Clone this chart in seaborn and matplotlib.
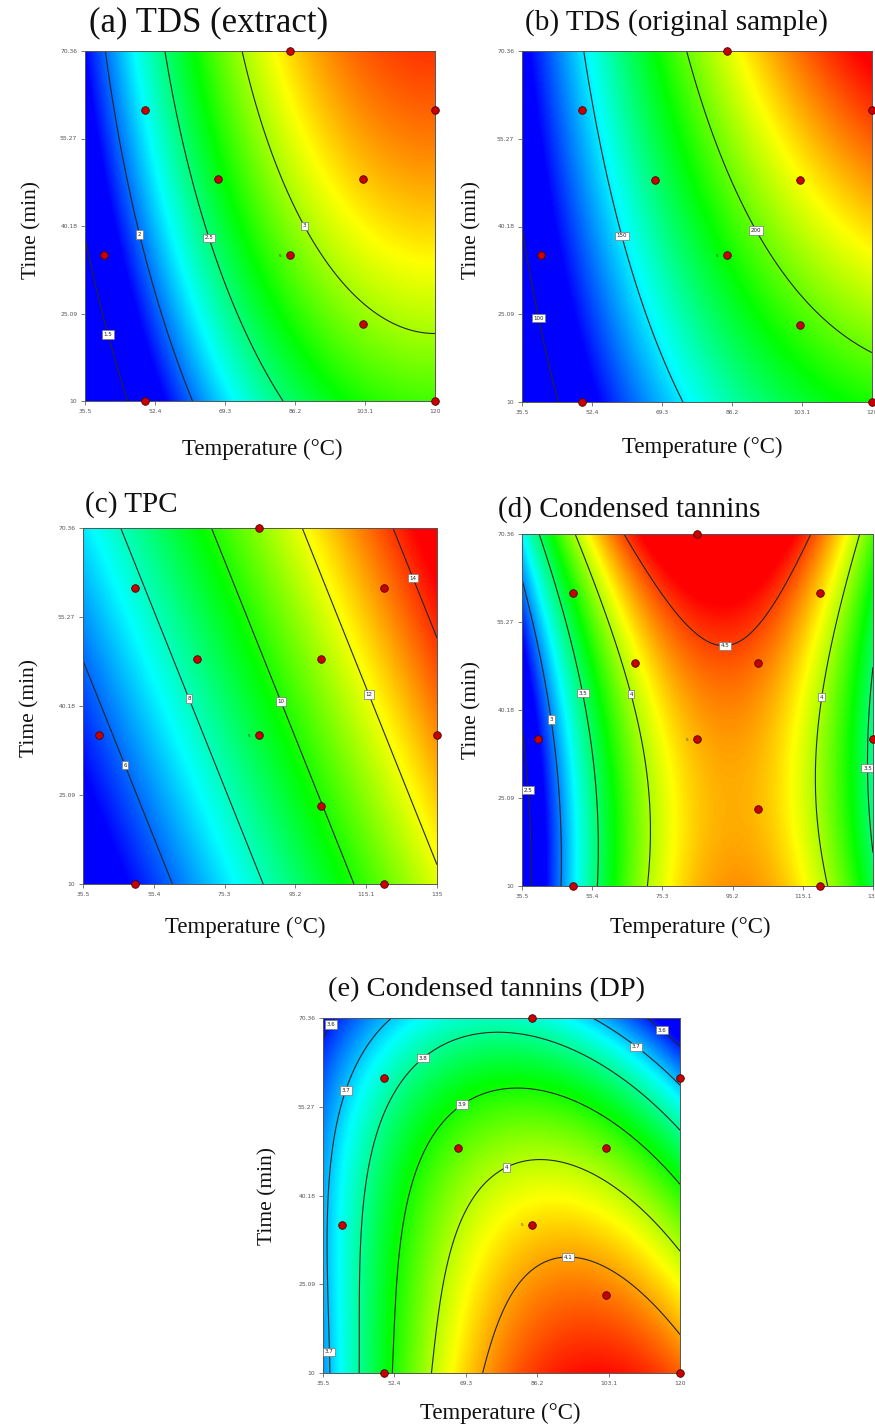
import numpy as np
import pandas as pd
import seaborn as sns
import matplotlib
matplotlib.use("Agg")
import matplotlib.pyplot as plt
from matplotlib.colors import LinearSegmentedColormap

sns.set_theme(style="white")
plt.rcParams['font.family'] = ['DejaVu Sans']

W, H = 875, 1426

# Experimental design: extraction temperature (°C) and time (min)
design_temp = [85, 50, 120, 67.5, 102.5, 40, 85, 135, 102.5, 50, 120]
design_time = [70.36, 60.2, 60.2, 48.2, 48.2, 35.2, 35.2, 35.2, 23.2, 10, 10]
center_temp, center_time = 85, 35.2
center_reps = "5"

time_ticks = [10, 25.09, 40.18, 55.27, 70.36]
temp_ticks_120 = [35.5, 52.4, 69.3, 86.2, 103.1, 120]
temp_ticks_135 = [35.5, 55.4, 75.3, 95.2, 115.1, 135]

# Quadratic response-surface models in coded units
# y = b0 + b1*A + b2*B + b12*A*B + b11*A^2 + b22*B^2
# with A = (T - 85) / 50 and B = (t - 40.18) / 30.18
coef_tds_extract = [2.945, 0.841, 0.349, 0.0, -0.60, -0.067]
coef_tds_sample = [191.8, 66.65, 26.5, 10.7, -26.3, -2.2]
coef_tpc = [9.48, 3.92, 1.57, 0.0, 0.0, 0.0]
coef_tannins = [4.33, 0.4725, 0.29, -0.154, -1.35, 0.24]

# Degree of polymerisation: iso-response points (T, t, DP) of the
# predicted surface, smoothed with a cubic model
dp_temp = [74.2, 76.2, 80.9, 89.8, 100.7, 110.9, 120.0,
           61.6, 62.8, 66.7, 74.6, 85.3, 100.7, 112.5, 120.0,
           52.3, 52.9, 57.3, 65.2, 80.2, 96.7, 112.5, 120.0,
           44.4, 45.4, 51.0, 58.9, 76.6, 96.7, 112.5, 120.0,
           36.3, 37.2, 40.2, 45.4, 51.4, 99.5, 109.6, 120.0,
           112.5, 119.6, 35.5, 40.7]
dp_time = [10.0, 20.7, 27.0, 30.05, 28.7, 23.6, 16.5,
           10.0, 20.7, 32.1, 42.3, 45.5, 43.4, 37.7, 30.7,
           10.0, 26.4, 46.2, 55.3, 57.7, 55.3, 47.3, 41.7,
           10.0, 32.1, 54.7, 63.8, 67.9, 64.4, 55.8, 50.5,
           10.0, 37.7, 58.1, 66.1, 70.36, 70.36, 65.6, 60.2,
           69.7, 66.1, 68.3, 70.36]
dp_value = [4.1] * 7 + [4.0] * 8 + [3.9] * 8 + [3.8] * 8 + [3.7] * 8 + \
           [3.6] * 4

levels_tds_extract = [1.5, 2, 2.5, 3]
levels_tds_sample = [100, 150, 200]
levels_tpc = [6, 8, 10, 12, 14]
levels_tannins = [2.5, 3, 3.5, 4, 4.5]
levels_tannins_dp = [3.6, 3.7, 3.8, 3.9, 4.0, 4.1]

# colour-scale limits of each response
range_tds_extract = (1.8, 3.62)
range_tds_sample = (118, 255)
range_tpc = (5.0, 14.5)
range_tannins = (2.75, 4.62)
range_tannins_dp = (3.58, 4.2)

cmap = LinearSegmentedColormap.from_list(
    "surface", ["#0000ff", "#00ffff", "#00ff00", "#ffff00", "#ff0000"])


def coded(T, t):
    return (np.asarray(T) - 85.0) / 50.0, (np.asarray(t) - 40.18) / 30.18


def quadratic(coef):
    def f(T, t):
        A, B = coded(T, t)
        b0, b1, b2, b12, b11, b22 = coef
        return b0 + b1 * A + b2 * B + b12 * A * B + b11 * A ** 2 + b22 * B ** 2
    return f


def cubic_terms(A, B):
    return np.stack([np.ones_like(A), A, B, A * B, A ** 2, B ** 2,
                     A ** 2 * B, A * B ** 2, A ** 3, B ** 3], axis=-1)


def cubic_from_points(T, t, y):
    A, B = coded(T, t)
    beta, *_ = np.linalg.lstsq(cubic_terms(A, B), np.asarray(y), rcond=None)

    def f(TT, tt):
        AA, BB = coded(TT, tt)
        return cubic_terms(AA, BB) @ beta
    return f


def frac_box(left, top, right, bottom):
    return [left / W, 1 - bottom / H, (right - left) / W, (bottom - top) / H]


fig = plt.figure(figsize=(W / 100, H / 100), dpi=100)
fig.patch.set_facecolor("white")

serif = ["Liberation Serif", "DejaVu Serif"]


def panel(box, surface, levels, vrange, xticks, title, title_xy, xlabel_xy,
          ylabel_xy, label_pos, title_size=21):
    ax = fig.add_axes(frac_box(*box))
    x0, x1 = xticks[0], xticks[-1]
    y0, y1 = time_ticks[0], time_ticks[-1]
    T, t = np.meshgrid(np.linspace(x0, x1, 400), np.linspace(y0, y1, 400))
    Z = surface(T, t)
    ax.imshow(Z, origin="lower", extent=[x0, x1, y0, y1], aspect="auto",
              cmap=cmap, vmin=vrange[0], vmax=vrange[1],
              interpolation="bilinear")
    cs = ax.contour(T, t, Z, levels=levels, colors="#262626", linewidths=0.8)
    texts = ax.clabel(cs, fmt="%g", fontsize=4.0, inline=False,
                      manual=label_pos, colors="#222222")
    for tx in texts:
        tx.set_rotation(0)
        tx.set_bbox(dict(boxstyle="square,pad=0.3", fc="white",
                         ec="#777777", lw=0.5))

    pts = pd.DataFrame({"Temperature": design_temp, "Time": design_time})
    pts = pts[(pts.Temperature >= x0) & (pts.Temperature <= x1)]
    sns.scatterplot(data=pts, x="Temperature", y="Time", ax=ax, s=30,
                    color="#c80000", edgecolor="#4a0000", linewidth=0.6,
                    clip_on=False, zorder=5, legend=False)
    ax.annotate(center_reps, (center_temp, center_time), xytext=(-7, -0.5),
                textcoords="offset points", fontsize=3, color="#1e3d1e",
                ha="center", va="center")

    ax.set_xlim(x0, x1)
    ax.set_ylim(y0, y1)
    ax.set_xticks(xticks)
    ax.set_xticklabels([f"{v:g}" for v in xticks])
    ax.set_yticks(time_ticks)
    ax.set_yticklabels([f"{v:g}" for v in time_ticks])
    ax.tick_params(axis="both", which="both", direction="out", length=3,
                   width=0.6, color="#666666", labelsize=4.3,
                   labelcolor="#555555", pad=2.5, bottom=True, left=True)
    for sp in ax.spines.values():
        sp.set_color("#555555")
        sp.set_linewidth(0.7)
    ax.set_xlabel("")
    ax.set_ylabel("")

    fig.text(title_xy[0] / W, 1 - title_xy[1] / H, title, family=serif,
             fontsize=title_size, ha="left", va="center", color="#111111")
    fig.text(xlabel_xy[0] / W, 1 - xlabel_xy[1] / H, "Temperature (°C)",
             family=serif, fontsize=16.5, ha="center", va="center",
             color="#111111")
    fig.text(ylabel_xy[0] / W, 1 - ylabel_xy[1] / H, "Time (min)",
             family=serif, fontsize=15.5, ha="center", va="center",
             rotation=90, color="#111111")
    return ax


panel((85, 51, 435, 401), quadratic(coef_tds_extract), levels_tds_extract,
      range_tds_extract, temp_ticks_120, "(a) TDS (extract)",
      (89, 23), (262, 449), (32, 230),
      [(39.8, 21.2), (46.9, 38.4), (64.5, 37.9), (88.4, 40.2)],
      title_size=25)

panel((522, 51, 872, 402), quadratic(coef_tds_sample), levels_tds_sample,
      range_tds_sample, temp_ticks_120, "(b) TDS (original sample)",
      (525, 23), (702, 447), (472, 230),
      [(40.6, 24.6), (58.6, 38.4), (91.6, 39.3)])

panel((83, 528, 437, 884), quadratic(coef_tpc), levels_tpc, range_tpc,
      temp_ticks_135, "(c) TPC",
      (85, 505), (245, 927), (30, 708),
      [(47.6, 30.2), (65.6, 41.5), (91.4, 41.0), (116.2, 42.2),
       (128.5, 61.9)])

panel((522, 534, 873, 886), quadratic(coef_tannins), levels_tannins,
      range_tannins, temp_ticks_135, "(d) Condensed tannins",
      (498, 510), (690, 927), (472, 710),
      [(38.3, 26.5), (44.3, 38.6), (53.1, 43.1), (67.8, 43.1),
       (93.0, 50.6), (120.2, 42.4), (132.7, 30.2)])

panel((323, 1018, 680, 1373), cubic_from_points(dp_temp, dp_time, dp_value),
      levels_tannins_dp, range_tannins_dp, temp_ticks_120,
      "(e) Condensed tannins (DP)",
      (328, 990), (500, 1413), (268, 1196),
      [(37.2, 69.3), (40.7, 58.1), (58.9, 63.7), (68.4, 55.7),
       (78.6, 45.3), (93.5, 30.7), (109.8, 65.6), (116.2, 68.7),
       (37.2, 13.6)], title_size=20.5)

fig.savefig("out.png", dpi=100, facecolor="white")
